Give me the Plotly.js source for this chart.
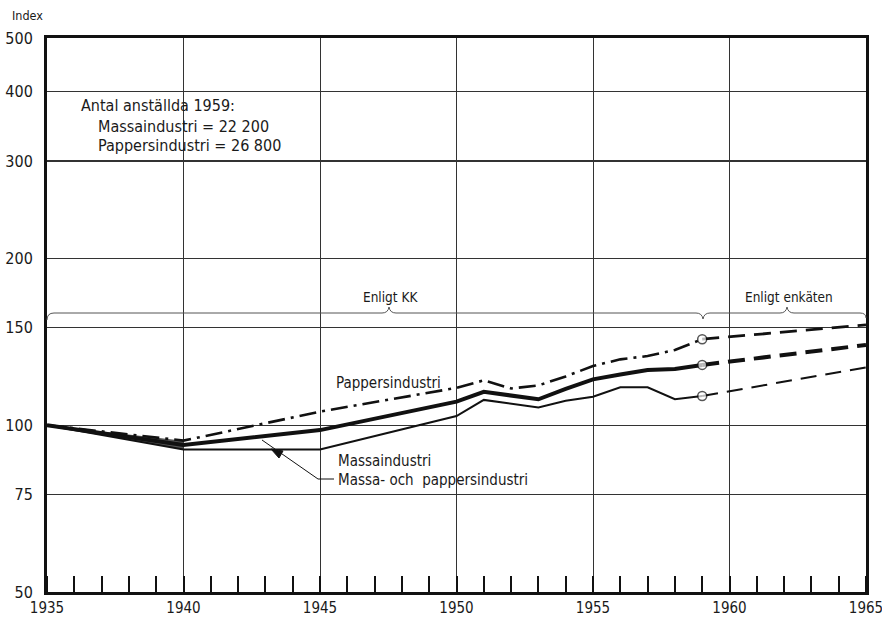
<!DOCTYPE html>
<html>
<head>
<meta charset="utf-8">
<script src="https://cdn.plot.ly/plotly-3.0.1.min.js"></script>
<style>html,body{margin:0;padding:0;background:#fff;}#chart{width:882px;height:617px;}</style>
</head>
<body>
<div id="chart"></div>
<script>
// ---- Data (index, 1935 = 100) ----
const yearsKK = [1935, 1940, 1945, 1950, 1951, 1952, 1953, 1954, 1955, 1956, 1957, 1958, 1959];
const pappersKK = [100, 93.8, 105.8, 116.8, 120.5, 116.5, 118.0, 122.5, 127.9, 131.5, 133.3, 136.7, 143.0];
const massaPappersKK = [100, 92.1, 98.0, 110.3, 114.9, 113.1, 111.4, 116.3, 121.0, 123.5, 125.8, 126.3, 128.5];
const massaKK = [100, 90.4, 90.4, 103.9, 111.1, 109.4, 107.7, 110.7, 112.6, 117.1, 117.1, 111.4, 112.9];

const yearsEnk = [1959, 1965];
const pappersEnk = [143.0, 151.7];
const massaPappersEnk = [128.5, 139.6];
const massaEnk = [112.9, 127.2];

const xTickVals = [1935, 1940, 1945, 1950, 1955, 1960, 1965];
const yTickVals = [50, 75, 100, 150, 200, 300, 400, 500];
const yTickText = ['50', '75', '100', '150', '200', '300', '400', '500'];

// ---- Helpers for decorations (pixel -> paper) ----
const L = 47, R = 866, T = 38, B = 592;
const px = x => (x - L) / (R - L);
const py = y => (B - y) / (B - T);

const FONT = '"DejaVu Sans Condensed", "Liberation Sans Narrow", "DejaVu Sans", sans-serif';
const INK = '#111';

const traces = [
  // grey band 1935-1940
  {x: yearsKK.slice(0, 2), y: massaKK.slice(0, 2), mode: 'lines', line: {width: 0, color: '#555'}, hoverinfo: 'skip', showlegend: false},
  {x: yearsKK.slice(0, 2), y: pappersKK.slice(0, 2), mode: 'lines', fill: 'tonexty', fillcolor: '#555', line: {width: 0, color: '#555'}, hoverinfo: 'skip', showlegend: false},
  // Massaindustri
  {x: yearsKK, y: massaKK, mode: 'lines', line: {color: INK, width: 2}, showlegend: false},
  {x: yearsEnk, y: massaEnk, mode: 'lines+markers', line: {color: INK, width: 2, dash: '16px,9px'},
   marker: {size: [9, 0], color: '#fff', line: {color: INK, width: 1.5}}, showlegend: false},
  // Massa- och pappersindustri
  {x: yearsKK, y: massaPappersKK, mode: 'lines', line: {color: INK, width: 4}, showlegend: false},
  {x: yearsEnk, y: massaPappersEnk, mode: 'lines+markers', line: {color: INK, width: 4, dash: '17px,9px'},
   marker: {size: [9, 0], color: '#fff', line: {color: INK, width: 1.5}}, showlegend: false},
  // Pappersindustri
  {x: yearsKK, y: pappersKK, mode: 'lines', line: {color: INK, width: 2.6, dash: '17px,6px,3px,6px'}, showlegend: false},
  {x: yearsEnk, y: pappersEnk, mode: 'lines+markers', line: {color: INK, width: 2.8, dash: '17px,9px'},
   marker: {size: [9, 0], color: '#fff', line: {color: INK, width: 1.5}}, showlegend: false}
];

const braceY = 313;
const shapes = [
  // brace "Enligt KK"
  {type: 'path', xref: 'paper', yref: 'paper', line: {color: '#555', width: 1},
   path: `M ${px(47)} ${py(320)} Q ${px(47)} ${py(braceY)} ${px(54)} ${py(braceY)} L ${px(382)} ${py(braceY)} Q ${px(388)} ${py(braceY)} ${px(389)} ${py(307)} Q ${px(390)} ${py(braceY)} ${px(396)} ${py(braceY)} L ${px(696)} ${py(braceY)} Q ${px(702)} ${py(braceY)} ${px(703)} ${py(319)}`},
  // brace "Enligt enkäten"
  {type: 'path', xref: 'paper', yref: 'paper', line: {color: '#555', width: 1},
   path: `M ${px(703)} ${py(319)} Q ${px(704)} ${py(braceY)} ${px(710)} ${py(braceY)} L ${px(780)} ${py(braceY)} Q ${px(786)} ${py(braceY)} ${px(787)} ${py(307)} Q ${px(788)} ${py(braceY)} ${px(794)} ${py(braceY)} L ${px(860)} ${py(braceY)} Q ${px(866)} ${py(braceY)} ${px(866)} ${py(318)}`},
  // leader line
  {type: 'path', xref: 'paper', yref: 'paper', line: {color: INK, width: 1},
   path: `M ${px(262)} ${py(440)} L ${px(318)} ${py(479)} L ${px(334)} ${py(479)}`},
  // small arrow wedge
  {type: 'path', xref: 'paper', yref: 'paper', line: {color: INK, width: 1}, fillcolor: INK,
   path: `M ${px(271)} ${py(449)} L ${px(283)} ${py(451)} L ${px(279)} ${py(458)} Z`}
];

const ann = (text, x, y, size, xanchor) => ({
  text, xref: 'paper', yref: 'paper', x: px(x), y: py(y), xanchor: xanchor || 'left', yanchor: 'middle',
  showarrow: false, font: {family: FONT, size, color: '#1a1a1a'}
});

const annotations = [
  ann('Index', 10, 15, 12.5),
  ann('Antal anställda 1959:', 79, 106, 16),
  ann('Massaindustri = 22 200', 96, 126, 16),
  ann('Pappersindustri = 26 800', 96, 145, 16),
  ann('Enligt KK', 390, 297, 13.5, 'center'),
  ann('Enligt enkäten', 789, 297, 13.5, 'center'),
  ann('Pappersindustri', 334, 383, 15),
  ann('Massaindustri', 336, 461, 15),
  ann('Massa- och  pappersindustri', 336, 480, 15)
];

const layout = {
  width: 882, height: 617,
  margin: {l: L, r: 882 - R, t: T, b: 617 - B},
  paper_bgcolor: '#fff', plot_bgcolor: '#fff',
  font: {family: FONT, color: '#1a1a1a'},
  showlegend: false,
  xaxis: {
    range: [1935, 1965], tickmode: 'array', tickvals: xTickVals,
    ticks: '', showgrid: true, gridcolor: '#333', gridwidth: 1,
    showline: true, linecolor: INK, linewidth: 3, mirror: true, zeroline: false,
    ticklabeloverflow: 'allow',
    tickfont: {family: FONT, size: 15, color: '#1a1a1a'},
    minor: {tickmode: 'linear', tick0: 1935, dtick: 1, ticks: 'inside', ticklen: 16, tickwidth: 2, tickcolor: INK, showgrid: false}
  },
  yaxis: {
    type: 'log', range: [Math.log10(50), Math.log10(500)],
    tickmode: 'array', tickvals: yTickVals, ticktext: yTickText,
    ticks: '', ticklabelstandoff: 8, showgrid: true, gridcolor: '#333', gridwidth: 1.2,
    showline: true, linecolor: INK, linewidth: 3, mirror: true, zeroline: false,
    tickfont: {family: FONT, size: 16, color: '#1a1a1a'}
  },
  shapes, annotations
};

Plotly.newPlot('chart', traces, layout, {displayModeBar: false, staticPlot: true});
</script>
</body>
</html>
